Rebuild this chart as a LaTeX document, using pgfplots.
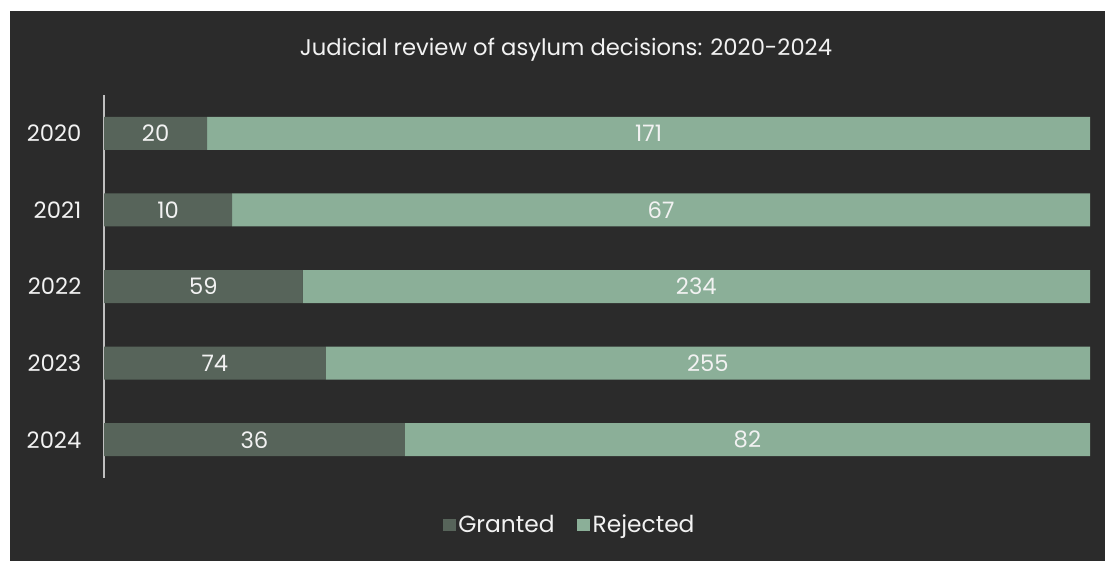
\documentclass[border=0pt]{standalone}
\usepackage{pgfplots}
\pgfplotsset{compat=1.18}
\usepackage{pgfplotstable}
\usepackage{fontspec}
\setmainfont{Poppins}
\definecolor{bg}{HTML}{2B2B2B}
\definecolor{granted}{HTML}{57645A}
\definecolor{rejected}{HTML}{8BAF98}
\definecolor{txt}{HTML}{F2F2F2}
\definecolor{axl}{HTML}{BFBFBF}
% idx, granted, rejected, granted share %, rejected share %
\pgfplotstableread{
idx g r gp rp
0 20 171 10.471 89.529
1 10 67 12.987 87.013
2 59 234 20.137 79.863
3 74 255 22.492 77.508
4 36 82 30.508 69.492
}\data
\pgfplotstableread{
x y v
5.236 0 20
6.494 1 10
10.068 2 59
11.246 3 74
15.254 4 36
55.236 0 171
56.494 1 67
60.069 2 234
61.246 3 255
65.254 4 82
}\labels
\begin{document}
\begin{tikzpicture}
\fill[white] (0,0) rectangle (828.75pt,-420.75pt);
\fill[bg] (7.5pt,-8.25pt) rectangle (828.75pt,-420.75pt);
\node[text=txt, font=\fontsize{17}{20}\selectfont, anchor=center] at (424.5pt,-37pt) {Judicial review of asylum decisions: 2020-2024};
\begin{axis}[
  at={(78pt,-358.5pt)}, anchor=south west,
  scale only axis, width=739.5pt, height=287.25pt,
  xbar stacked, bar width=24.75pt,
  xmin=0, xmax=100, ymin=-0.5, ymax=4.5, y dir=reverse,
  axis x line=none, axis y line*=left,
  y axis line style={draw=axl, line width=0.9pt},
  ytick={0,1,2,3,4}, yticklabels={2020,2021,2022,2023,2024},
  major tick length=0pt,
  yticklabel style={text=txt, font=\fontsize{17}{20}\selectfont, xshift=-13.5pt},
  legend style={at={(0.4726,-0.1227)}, anchor=center, legend columns=2, draw=none, fill=none,
    text=txt, font=\fontsize{17.5}{20}\selectfont,
    /tikz/every even column/.append style={column sep=15pt}},
  legend image code/.code={\fill[#1] (0pt,-4.8pt) rectangle (9.6pt,4.8pt);},
]
\addplot[fill=granted, draw=none] table[x=gp, y=idx] {\data};
\addlegendentry{Granted}
\addplot[fill=rejected, draw=none] table[x=rp, y=idx] {\data};
\addlegendentry{Rejected}
\end{axis}
\begin{axis}[
  at={(78pt,-358.5pt)}, anchor=south west,
  scale only axis, width=739.5pt, height=287.25pt,
  xmin=0, xmax=100, ymin=-0.5, ymax=4.5, y dir=reverse,
  hide axis, clip=false,
]
\addplot[draw=none, mark=none, nodes near coords, point meta=explicit symbolic,
  nodes near coords style={anchor=center, text=txt, font=\fontsize{17}{20}\selectfont}]
  table[x=x, y=y, meta=v] {\labels};
\end{axis}
\end{tikzpicture}
\end{document}
